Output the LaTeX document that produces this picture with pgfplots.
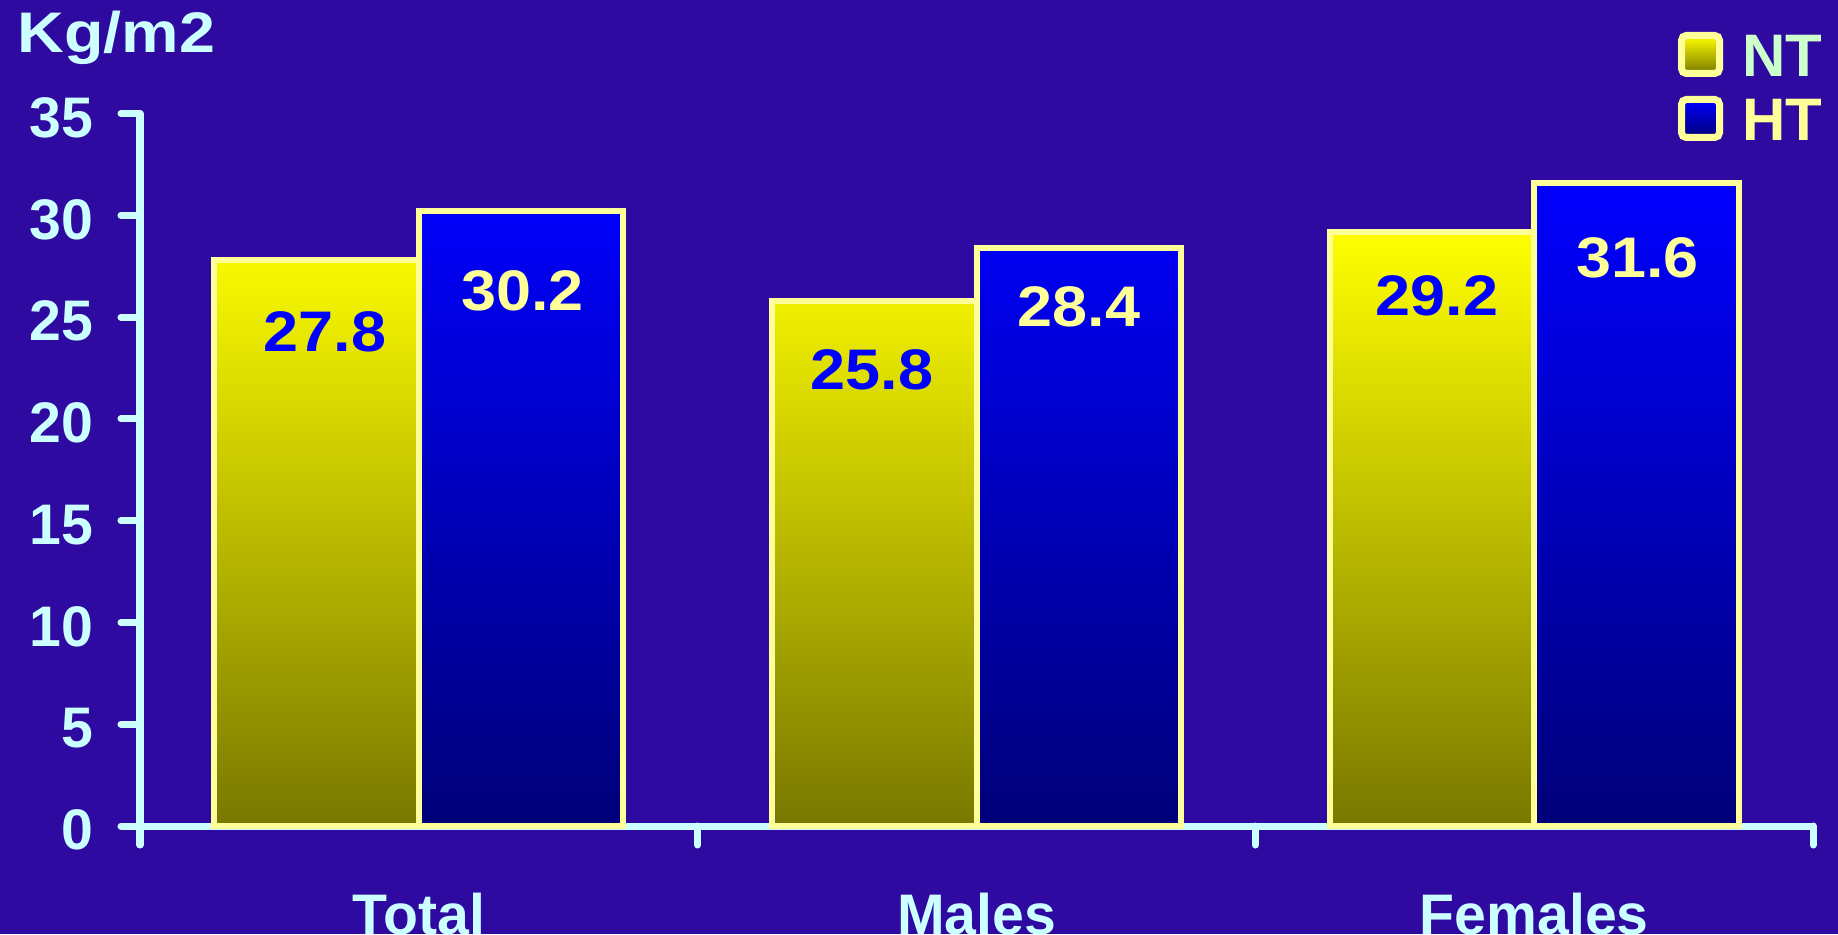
\documentclass[border=0pt]{standalone}
\usepackage{pgfplots}
\pgfplotsset{compat=1.18}
\usepackage{fontspec}
\setmainfont{Liberation Sans}
\definecolor{bg}{RGB}{46,10,160}
\definecolor{axiscol}{RGB}{204,255,255}
\definecolor{edge}{RGB}{255,255,153}
\definecolor{ntlab}{RGB}{204,255,204}
\definecolor{ntbot}{RGB}{120,120,0}
\definecolor{httop}{RGB}{0,0,255}
\definecolor{htbot}{RGB}{0,0,120}
\newcommand{\bigfont}{\bfseries\fontsize{14.3}{16}\selectfont}
\begin{document}
\begin{tikzpicture}[x=1pt,y=1pt]
\fill[bg] (0,0) rectangle (459.5,233.5);
\useasboundingbox (0,0) rectangle (459.5,233.5);
\node[anchor=base west, text=axiscol, font=\bigfont, inner sep=0pt] at (4.25,220.25) {\scalebox{1.13}[1]{Kg/m2}};
\begin{axis}[
  at={(35pt,27pt)}, anchor=south west,
  scale only axis, width=418.25pt, height=178.1pt,
  xmin=0, xmax=3, ymin=0, ymax=35,
  axis x line*=bottom, axis y line*=left,
  axis line style={-, line width=1.75pt, color=axiscol, line cap=round},
  xtick={0,1,2,3}, xticklabels={},
  ytick={0,5,...,35},
  tick align=outside, major tick length=4.75pt,
  tick style={line width=1.75pt, color=axiscol, line cap=round},
  yticklabel style={text=axiscol, font=\bigfont, xshift=-3.4pt, yshift=-1pt},
  /pgf/number format/assume math mode=true,
  clip=false,
  legend image code/.code={\draw[#1, line width=1.75pt, rounded corners=1.2pt] (0.875pt,-4.75pt) rectangle (10.375pt,4.75pt);},
  legend style={at={(axis description cs:0.9193,1.1146)}, anchor=north west, draw=none, fill=none,
    inner sep=0pt, outer sep=0pt, row sep=4.75pt, column sep=4.75pt,
    nodes={inner sep=0pt, text height=11pt, text depth=0pt},
    font=\bfseries\fontsize{15}{17}\selectfont},
  legend cell align=left,
]
\addplot[ybar, bar width=51.1pt, bar shift=-25.55pt, draw=edge, line width=1.5pt,
  top color=yellow, bottom color=ntbot]
  coordinates {(0.5,27.8) (1.5,25.8) (2.5,29.2)};
\addlegendentry{\textcolor{ntlab}{NT}}
\addplot[ybar, bar width=51.1pt, bar shift=25.55pt, draw=edge, line width=1.5pt,
  top color=httop, bottom color=htbot]
  coordinates {(0.5,30.2) (1.5,28.4) (2.5,31.6)};
\addlegendentry{\textcolor{edge}{HT}}
% value labels (text only)
\addplot[draw=none, mark=none, forget plot,
  nodes near coords={\scalebox{1.1}[1]{\pgfplotspointmeta}}, point meta=explicit symbolic,
  every node near coord/.append style={anchor=center, text=blue, font=\bigfont, inner sep=0pt}]
  coordinates {(0.332,24.3) [27.8] (1.3125,22.4) [25.8] (2.3256,26.05) [29.2]};
\addplot[draw=none, mark=none, forget plot,
  nodes near coords={\scalebox{1.1}[1]{\pgfplotspointmeta}}, point meta=explicit symbolic,
  every node near coord/.append style={anchor=center, text=edge, font=\bigfont, inner sep=0pt}]
  coordinates {(0.686,26.3) [30.2] (1.684,25.5) [28.4] (2.685,27.9) [31.6]};
\node[anchor=base, text=axiscol, font=\bigfont, yshift=-27pt] at (axis cs:0.5,0) {Total};
\node[anchor=base, text=axiscol, font=\bigfont, yshift=-27pt] at (axis cs:1.5,0) {Males};
\node[anchor=base, text=axiscol, font=\bigfont, yshift=-27pt] at (axis cs:2.5,0) {Females};
\end{axis}
\end{tikzpicture}
\end{document}
